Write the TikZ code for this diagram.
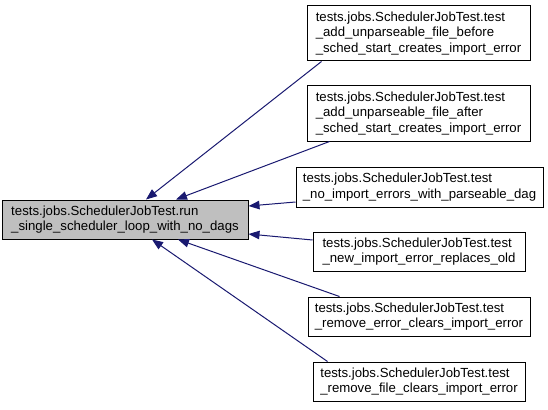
\documentclass[tikz,border=0pt]{standalone}
\usepackage{fontspec}
\setmainfont{Liberation Sans}
\usetikzlibrary{arrows.meta,positioning}

\definecolor{edgeblue}{HTML}{191970}
\definecolor{rungray}{HTML}{BFBFBF}

\begin{document}
\begin{tikzpicture}[x=1pt, y=-1pt,
		testbox/.style={draw=black, line width=1pt, fill=white, align=left,
			inner sep=0pt, minimum height=39pt,
			font=\fontsize{13.2}{15.5}\selectfont},
		calledge/.style={draw=edgeblue, line width=1pt,
			-{Triangle[length=11pt,width=8.5pt]}}]

		% picture frame, in pixels of the reference
		\useasboundingbox (0,0) rectangle (548,409);

		% the function that is called
		\node[testbox, fill=rungray, minimum width=246pt] (run) at (125,219.5)
			{tests.jobs.SchedulerJobTest.run\\\_single\_scheduler\_loop\_with\_no\_dags};

		% the tests that call it
		\node[testbox, minimum width=223pt, minimum height=55pt] (t1) at (418.5,33.5)
			{tests.jobs.SchedulerJobTest.test\\\_add\_unparseable\_file\_before\\\_sched\_start\_creates\_import\_error};
		\node[testbox, minimum width=223pt, minimum height=55pt] (t2) at (418.5,113.5)
			{tests.jobs.SchedulerJobTest.test\\\_add\_unparseable\_file\_after\\\_sched\_start\_creates\_import\_error};
		\node[testbox, minimum width=247pt, minimum height=40pt] (t3) at (419.5,187)
			{tests.jobs.SchedulerJobTest.test\\\_no\_import\_errors\_with\_parseable\_dag};
		\node[testbox, minimum width=212pt] (t4) at (419,251.5)
			{tests.jobs.SchedulerJobTest.test\\\_new\_import\_error\_replaces\_old};
		\node[testbox, minimum width=222pt] (t5) at (419,316.5)
			{tests.jobs.SchedulerJobTest.test\\\_remove\_error\_clears\_import\_error};
		\node[testbox, minimum width=212pt] (t6) at (419,381.5)
			{tests.jobs.SchedulerJobTest.test\\\_remove\_file\_clears\_import\_error};

		% call edges, tip at the called function
		\draw[calledge] ([xshift=15pt]t1.south west) -- ([xshift=21pt]run.north);
		\draw[calledge] ([xshift=23pt]t2.south west) -- ([xshift=51pt]run.north);
		\draw[calledge] ([yshift=-15pt]t3.west) -- ([yshift=13.5pt]run.east);
		\draw[calledge] ([yshift=11.5pt]t4.west) -- ([yshift=-14.5pt]run.east);
		\draw[calledge] ([xshift=32pt]t5.north west) -- ([xshift=53pt]run.south);
		\draw[calledge] ([xshift=15pt]t6.north west) -- ([xshift=27pt]run.south);

	\end{tikzpicture}
\end{document}
